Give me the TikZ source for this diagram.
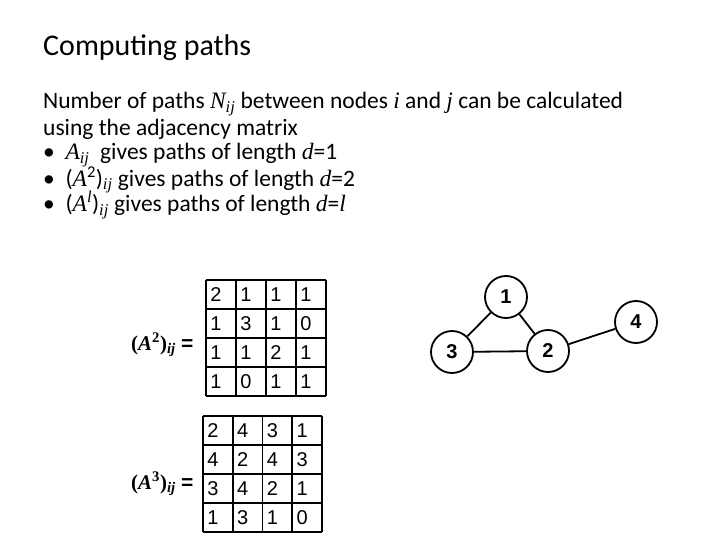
\documentclass[tikz,border=0pt]{standalone}
\usepackage{fontspec}
\setmainfont{Carlito}
\newfontfamily\tms{Liberation Serif}
\newfontfamily\arl{Liberation Sans}
\begin{document}
\begin{tikzpicture}[x=1pt,y=-1pt,
  txt/.style={anchor=west,inner sep=0,font=\fontsize{23.5}{28}\selectfont},
  vtx/.style={circle,draw,line width=1.8pt,minimum size=42pt,inner sep=0,font=\arl\bfseries\fontsize{20}{20}\selectfont},
  edge/.style={line width=1.8pt},
  cell/.style={font=\arl\fontsize{20}{20}\selectfont},
  gl/.style={line width=1.8pt}]
\useasboundingbox (0,0) rectangle (720,540);
\newcommand{\mi}[1]{{\tms\itshape #1}}
\node[txt,font=\fontsize{30}{34}\selectfont] (title) at (43,48) {Computing paths};
\node[txt] (l1) at (43,104) {Number of paths \mi{N\textsubscript{ij}} between nodes \mi{i} and \mi{j} can be calculated};
\node[txt] (l2) at (43,129) {using the adjacency matrix};
\node[txt] (l3) at (43,155) {\textbullet\ \ \mi{A\textsubscript{ij}}\ \ gives paths of length \mi{d}=1};
\node[txt] (l4) at (43,180) {\textbullet\ \ (\mi{A}\textsuperscript{2})\mi{\textsubscript{ij}} gives paths of length \mi{d}=2};
\node[txt] (l5) at (43,205) {\textbullet\ \ (\mi{A\textsuperscript{l}})\mi{\textsubscript{ij}} gives paths of length \mi{d}=\mi{l}};
\node[anchor=west,inner sep=0,font=\tms\bfseries\fontsize{21}{21}\selectfont] (la2) at (131,345) {(\textit{A}\textsuperscript{2})\textsubscript{\textit{ij}} \arl =};
\node[anchor=west,inner sep=0,font=\tms\bfseries\fontsize{21}{21}\selectfont] (la3) at (131,484) {(\textit{A}\textsuperscript{3})\textsubscript{\textit{ij}} \arl =};
\foreach \i in {0,...,4}{
  \draw[gl] (206+30*\i,280) -- (206+30*\i,396);
  \draw[gl] (206,280+29*\i) -- (326,280+29*\i);
  \draw[gl] (203+29.75*\i,416) -- (203+29.75*\i,532);
  \draw[gl] (203,416+29*\i) -- (322,416+29*\i);}
\foreach \r/\row in {0/{2,1,1,1},1/{1,3,1,0},2/{1,1,2,1},3/{1,0,1,1}}{
  \foreach \v [count=\c from 0] in \row {\node[cell] (m2-\r-\c) at (216+30*\c,295+29*\r) {\v};}}
\foreach \r/\row in {0/{2,4,3,1},1/{4,2,4,3},2/{3,4,2,1},3/{1,3,1,0}}{
  \foreach \v [count=\c from 0] in \row {\node[cell] (m3-\r-\c) at (213+29.75*\c,431+29*\r) {\v};}}
\node[vtx] (n1) at (506,297) {1};
\node[vtx] (n4) at (636,322) {4};
\node[vtx] (n3) at (452,352) {3};
\node[vtx] (n2) at (548,351) {2};
\draw[edge] (n1)--(n3) (n1)--(n2) (n3)--(n2) (n2)--(n4);
\end{tikzpicture}
\end{document}
